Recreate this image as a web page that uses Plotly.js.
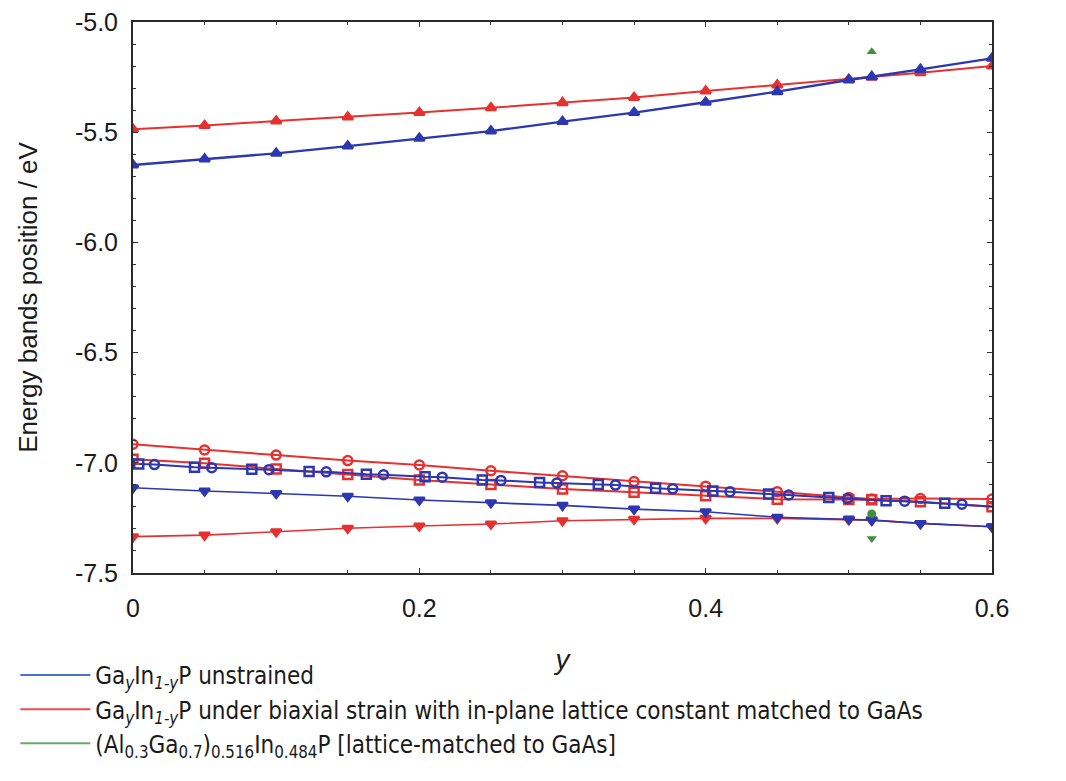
<!DOCTYPE html>
<html>
<head>
<meta charset="utf-8">
<script src="https://cdn.plot.ly/plotly-3.0.1.min.js"></script>
<style>html,body{margin:0;padding:0;background:#fff;}#chart{width:1066px;height:781px;}</style>
</head>
<body>
<div id="chart"></div>
<script>
// composition y
const yComp = [0, 0.05, 0.1, 0.15, 0.2, 0.25, 0.3, 0.35, 0.4, 0.45, 0.5, 0.516, 0.55, 0.6];

// GaInP unstrained, upper band (triangle up)
const unstrainedUpper = [-5.649, -5.622, -5.596, -5.563, -5.528, -5.495, -5.452, -5.411, -5.364, -5.316, -5.263, -5.248, -5.215, -5.165];
// GaInP strained, upper band (triangle up)
const strainedUpper = [-5.487, -5.470, -5.449, -5.431, -5.411, -5.389, -5.366, -5.343, -5.313, -5.286, -5.260, -5.251, -5.230, -5.200];

// strained, circles
const strainedCircle = [-6.916, -6.942, -6.965, -6.990, -7.010, -7.036, -7.059, -7.085, -7.106, -7.131, -7.157, -7.164, -7.162, -7.164];
// strained, squares
const strainedSquare = [-6.984, -7.002, -7.028, -7.053, -7.078, -7.098, -7.119, -7.134, -7.150, -7.165, -7.166, -7.168, -7.177, -7.199];

// strained, triangle down
const strainedLower = [-7.335, -7.328, -7.313, -7.297, -7.287, -7.278, -7.263, -7.256, -7.252, -7.252, -7.258, -7.260, -7.275, -7.290];
// unstrained, triangle down
const unstrainedLower = [-7.113, -7.128, -7.139, -7.152, -7.169, -7.181, -7.193, -7.210, -7.222, -7.247, -7.255, -7.260, -7.275, -7.290];

// unstrained, squares/circles (denser sampling)
const unstrainedDenseX = [0.004, 0.015, 0.043, 0.055, 0.083, 0.095, 0.123, 0.135, 0.163, 0.175, 0.204, 0.216, 0.244, 0.257, 0.284, 0.296, 0.325, 0.337, 0.365, 0.377, 0.405, 0.417, 0.444, 0.458, 0.486, 0.499, 0.526, 0.539, 0.567, 0.579, 0.6];
const unstrainedDenseY = [-7.006, -7.008, -7.020, -7.022, -7.029, -7.031, -7.039, -7.041, -7.052, -7.054, -7.063, -7.065, -7.078, -7.080, -7.089, -7.092, -7.098, -7.101, -7.115, -7.118, -7.128, -7.131, -7.142, -7.146, -7.158, -7.163, -7.172, -7.174, -7.184, -7.188, -7.198];
const unstrainedDenseSym = ['square-open','circle-open','square-open','circle-open','square-open','circle-open','square-open','circle-open','square-open','circle-open','square-open','circle-open','square-open','circle-open','square-open','circle-open','square-open','circle-open','square-open','circle-open','square-open','circle-open','square-open','circle-open','square-open','circle-open','square-open','circle-open','square-open','circle-open','circle-open'];
const unstrainedDenseSize = [9,9,9,9,9,9,9,9,9,9,9,9,9,9,9,9,9,9,9,9,9,9,9,9,9,9,9,9,9,9,0];

// AlGaInP lattice matched (green points)
const alComp = [0.516];
const alUpper = [-5.135];
const alMid = [-7.232];
const alLower = [-7.343];

// tick labels
const xTickVals = [0, 0.2, 0.4, 0.6];
const xTickText = ['0', '0.2', '0.4', '0.6'];
const yTickVals = [-7.5, -7.0, -6.5, -6.0, -5.5, -5.0];
const yTickText = ['-7.5', '-7.0', '-6.5', '-6.0', '-5.5', '-5.0'];

const legendNames = [
  'Ga<sub><i>y</i></sub>In<sub><i>1-y</i></sub>P unstrained',
  'Ga<sub><i>y</i></sub>In<sub><i>1-y</i></sub>P under biaxial strain with in-plane lattice constant matched to GaAs',
  '(Al<sub>0.3</sub>Ga<sub>0.7</sub>)<sub>0.516</sub>In<sub>0.484</sub>P [lattice-matched to GaAs]'
];

const BLUE = '#2c37b0';
const RED = '#e5312f';
const GREEN = '#3f8f3f';
const LBLUE = '#4a70d6';
const LRED = '#ee4d4d';
const LGREEN = '#6aa86a';

function tr(x, y, color, symbol, width, size) {
  return {
    x: x, y: y, type: 'scatter', mode: 'lines+markers', showlegend: false,
    line: {color: color, width: width},
    marker: {color: color, symbol: symbol, size: size, opacity: 1, line: {color: color, width: 2.5}},
    hoverinfo: 'skip'
  };
}

const traces = [
  tr(yComp, strainedLower, RED, 'triangle-down', 1.6, 9),
  tr(yComp, unstrainedLower, BLUE, 'triangle-down', 1.6, 9),
  tr(yComp, strainedSquare, RED, 'square-open', 2, 9),
  tr(yComp, strainedCircle, RED, 'circle-open', 2, 9),
  tr(unstrainedDenseX, unstrainedDenseY, BLUE, unstrainedDenseSym, 2, unstrainedDenseSize),
  tr(yComp, strainedUpper, RED, 'triangle-up', 2, 9),
  tr(yComp, unstrainedUpper, BLUE, 'triangle-up', 2.4, 9),
  {x: alComp, y: alUpper, type: 'scatter', mode: 'markers', showlegend: false, marker: {color: GREEN, symbol: 'triangle-up', size: 9}},
  {x: alComp, y: alMid, type: 'scatter', mode: 'markers', showlegend: false, marker: {color: GREEN, symbol: 'circle', size: 9}},
  {x: alComp, y: alLower, type: 'scatter', mode: 'markers', showlegend: false, marker: {color: GREEN, symbol: 'triangle-down', size: 9}},
  {x: alComp, y: [unstrainedLower[11]], type: 'scatter', mode: 'markers', showlegend: false, marker: {color: BLUE, symbol: 'triangle-down', size: 9}},
  // legend entries
  {x: [null], y: [null], type: 'scatter', mode: 'lines', name: legendNames[0], line: {color: LBLUE, width: 2}},
  {x: [null], y: [null], type: 'scatter', mode: 'lines', name: legendNames[1], line: {color: LRED, width: 2}},
  {x: [null], y: [null], type: 'scatter', mode: 'lines', name: legendNames[2], line: {color: LGREEN, width: 2}}
];

const layout = {
  width: 1066, height: 781,
  margin: {l: 133, r: 74, t: 22, b: 208},
  paper_bgcolor: '#ffffff', plot_bgcolor: '#ffffff',
  font: {family: 'Liberation Sans, Arial, sans-serif', size: 22, color: '#1a1a1a'},
  xaxis: {
    range: [0, 0.6], tickvals: xTickVals, ticktext: xTickText,
    ticks: 'inside', ticklen: 5, tickcolor: '#333', tickwidth: 1,
    minor: {dtick: 0.05, ticks: 'inside', ticklen: 3, tickcolor: '#333'},
    showline: true, linecolor: '#2a2a2a', linewidth: 2, mirror: 'allticks',
    showgrid: false, zeroline: false, automargin: false,
    tickfont: {size: 25}, ticklabelstandoff: 12,
    title: {text: '<i>y</i>', font: {size: 28}, standoff: 28}
  },
  yaxis: {
    range: [-7.5, -5.0], tickvals: yTickVals, ticktext: yTickText,
    ticks: 'inside', ticklen: 5, tickcolor: '#333', tickwidth: 1,
    minor: {dtick: 0.1, ticks: 'inside', ticklen: 3, tickcolor: '#333'},
    showline: true, linecolor: '#2a2a2a', linewidth: 2, mirror: 'allticks',
    showgrid: false, zeroline: false, automargin: false,
    tickfont: {size: 25}, ticklabelstandoff: 8,
    title: {text: 'Energy bands position / eV', font: {size: 26}, standoff: 30}
  },
  showlegend: true,
  legend: {
    x: -0.137, xanchor: 'left', y: -0.35, yanchor: 'bottom',
    font: {family: 'DejaVu Sans Condensed, Liberation Sans, sans-serif', size: 24, color: '#1a1a1a'},
    bgcolor: 'rgba(0,0,0,0)', tracegroupgap: 0, itemwidth: 70
  }
};

Plotly.newPlot('chart', traces, layout, {displayModeBar: false, staticPlot: true});
</script>
</body>
</html>
